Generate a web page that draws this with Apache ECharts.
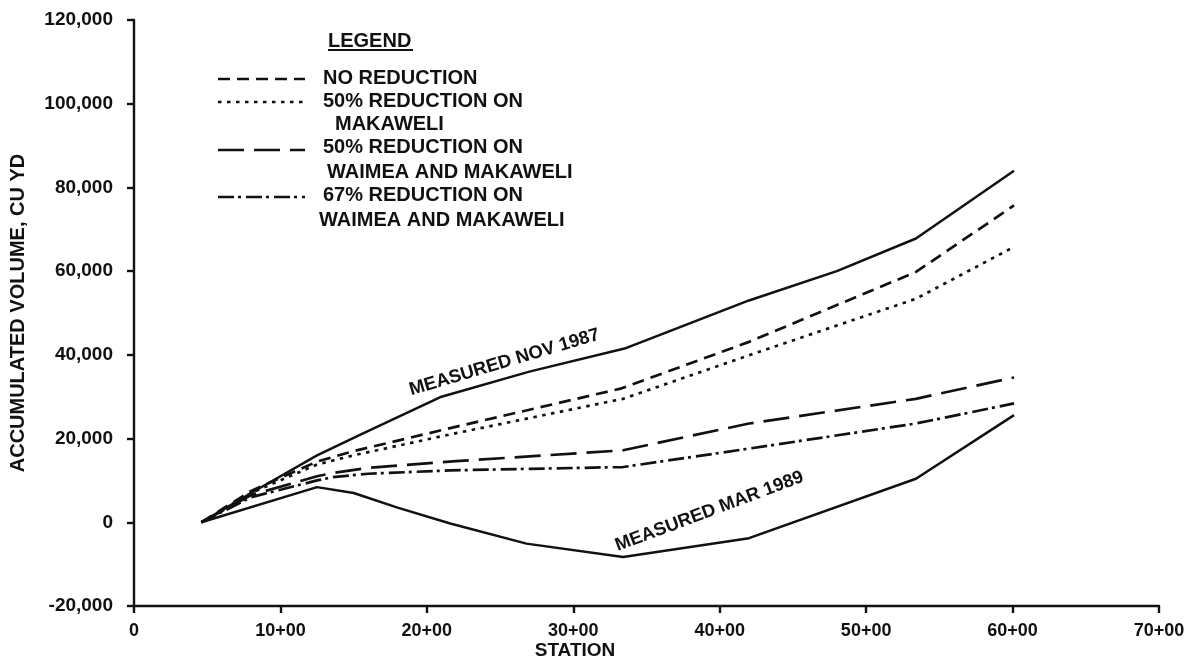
<!DOCTYPE html>
<html>
<head>
<meta charset="utf-8">
<script src="https://cdn.jsdelivr.net/npm/echarts@6/dist/echarts.min.js"></script>
<style>
html,body{margin:0;padding:0;background:#fff;}
#chart{width:1191px;height:662px;}
</style>
</head>
<body>
<div id="chart"></div>
<script>
// ---- data (station in hundreds of feet, volume in cu yd) ----
const nov1987Station = [4.6, 8, 12.5, 15.5, 21, 27, 33.5, 42, 48, 53.4, 60.1];
const nov1987Volume  = [0, 7000, 16000, 21000, 30000, 36000, 41500, 53000, 60000, 67800, 84000];

const noReductionStation = [4.6, 8, 12.5, 15, 21.6, 33.3, 42, 53.4, 60.1];
const noReductionVolume  = [0, 7500, 14500, 17000, 22500, 32000, 43100, 59800, 75700];

const makaweli50Station = [4.6, 8, 12.5, 15, 21.6, 33.4, 42, 53.4, 60.1];
const makaweli50Volume  = [0, 7000, 13800, 16000, 21000, 29500, 39900, 53400, 65800];

const both50Station = [4.6, 8, 12.5, 13.6, 16, 22, 33.4, 42, 53.4, 60.1];
const both50Volume  = [0, 6500, 11000, 11800, 13000, 14600, 17200, 23600, 29500, 34600];

const both67Station = [4.6, 8, 12.5, 13.6, 16, 21.6, 33.4, 42, 53.4, 60.1];
const both67Volume  = [0, 6000, 10000, 10800, 11600, 12400, 13200, 17600, 23600, 28400];

const mar1989Station = [4.6, 12.5, 15, 18, 21.6, 26.8, 33.4, 42, 53.4, 60.1];
const mar1989Volume  = [0, 8400, 7000, 3500, -300, -5100, -8300, -3800, 10400, 25600];

const annotText    = ['MEASURED NOV 1987', 'MEASURED MAR 1989'];
const annotStation = [25.3, 39.3];
const annotVolume  = [38200, 2600];
const annotAngle   = [16.5, 20.5];

const legendNames = [
  'NO REDUCTION',
  '50% REDUCTION ON',
  'MAKAWELI',
  '50% REDUCTION ON',
  'WAIMEA AND MAKAWELI',
  '67% REDUCTION ON',
  'WAIMEA AND MAKAWELI'
];

const xTickLabels = ['0', '10+00', '20+00', '30+00', '40+00', '50+00', '60+00', '70+00'];

// ---- helpers ----
function pairs(xs, ys) { return xs.map((x, i) => [x, ys[i]]); }
function fmtThousands(v) { return String(v).replace(/\B(?=(\d{3})+(?!\d))/g, ','); }

const FONT = '"Liberation Sans", Arial, Helvetica, sans-serif';
const INK = '#111';

const dashNo = [12, 7];
const dashDot50 = [3.5, 5.5];
const dashLong = [26, 10];
const dashDashDot = [16, 4, 3, 5];

function lineSeries(name, data, dash, width) {
  return {
    name: name,
    type: 'line',
    data: data,
    showSymbol: false,
    symbol: 'none',
    smooth: false,
    silent: true,
    lineStyle: { color: INK, width: width, type: dash || 'solid', cap: 'butt', join: 'round' },
    z: 3
  };
}

const chart = echarts.init(document.getElementById('chart'), null, { renderer: 'canvas' });

// legend drawn as graphic elements
const lgX1 = 218, lgX2 = 305, lgTX = 323;
const LGFONT = 'bold 20px ' + FONT;
function lgText(txt, x, y) {
  return { type: 'text', x: x, y: y, z: 10, style: { text: txt, font: LGFONT, fill: INK, textVerticalAlign: 'middle', textAlign: 'left' } };
}
function lgLine(y, dash) {
  return { type: 'line', z: 10, shape: { x1: lgX1, y1: y, x2: lgX2, y2: y }, style: { stroke: INK, lineWidth: 2.6, lineDash: dash } };
}
const legendGraphic = [
  lgText('LEGEND', 328, 41),
  { type: 'line', z: 10, shape: { x1: 328, y1: 50, x2: 413, y2: 50 }, style: { stroke: INK, lineWidth: 2 } },
  lgLine(79, dashNo),
  lgLine(102, dashDot50),
  lgLine(150, dashLong),
  lgLine(197, dashDashDot),
  lgText(legendNames[0], lgTX, 78),
  lgText(legendNames[1], lgTX, 101),
  lgText(legendNames[2], 335, 124),
  lgText(legendNames[3], lgTX, 147),
  lgText(legendNames[4], 327, 172),
  lgText(legendNames[5], lgTX, 195),
  lgText(legendNames[6], 319, 220)
];

const option = {
  backgroundColor: '#fff',
  animation: false,
  grid: { left: 134, right: 32, top: 20, bottom: 56, containLabel: false },
  xAxis: {
    type: 'value',
    min: 0, max: 70, interval: 10,
    axisLine: { show: true, onZero: false, lineStyle: { color: INK, width: 2.4 } },
    axisTick: { show: true, inside: false, length: 7, lineStyle: { color: INK, width: 2.4 } },
    splitLine: { show: false },
    axisLabel: {
      color: INK, fontFamily: FONT, fontWeight: 'bold', fontSize: 18, margin: 16,
      formatter: function (v) { return xTickLabels[Math.round(v / 10)]; }
    }
  },
  yAxis: {
    type: 'value',
    min: -20000, max: 120000, interval: 20000,
    name: 'ACCUMULATED VOLUME, CU YD',
    nameLocation: 'middle',
    nameGap: 106,
    nameTextStyle: { color: INK, fontFamily: FONT, fontWeight: 'bold', fontSize: 20 },
    axisLine: { show: true, onZero: false, lineStyle: { color: INK, width: 2.4 } },
    axisTick: { show: true, inside: false, length: 7, lineStyle: { color: INK, width: 2.4 } },
    splitLine: { show: false },
    axisLabel: {
      color: INK, fontFamily: FONT, fontWeight: 'bold', fontSize: 19, margin: 21,
      formatter: function (v) { return fmtThousands(v); }
    }
  },
  graphic: legendGraphic.concat([
    { type: 'text', x: 575, y: 651, style: { text: 'STATION', font: 'bold 19px ' + FONT, fill: INK, textAlign: 'center', textVerticalAlign: 'middle' } }
  ]),
  series: [
    lineSeries('MEASURED NOV 1987', pairs(nov1987Station, nov1987Volume), 'solid', 2.5),
    lineSeries('NO REDUCTION', pairs(noReductionStation, noReductionVolume), dashNo, 2.7),
    lineSeries('50% REDUCTION ON MAKAWELI', pairs(makaweli50Station, makaweli50Volume), dashDot50, 2.7),
    lineSeries('50% REDUCTION ON WAIMEA AND MAKAWELI', pairs(both50Station, both50Volume), dashLong, 2.7),
    lineSeries('67% REDUCTION ON WAIMEA AND MAKAWELI', pairs(both67Station, both67Volume), dashDashDot, 2.7),
    lineSeries('MEASURED MAR 1989', pairs(mar1989Station, mar1989Volume), 'solid', 2.5),
    {
      name: 'annotations',
      type: 'scatter',
      silent: true,
      symbolSize: 0,
      z: 5,
      itemStyle: { opacity: 1 },
      data: annotText.map((t, i) => ({
        value: [annotStation[i], annotVolume[i]],
        label: { show: true, formatter: t, rotate: annotAngle[i], color: INK, textBorderWidth: 0 }
      })),
      label: {
        show: true, position: 'inside', color: INK, textBorderWidth: 0,
        fontFamily: FONT, fontWeight: 'bold', fontSize: 18.5
      }
    }
  ]
};

chart.setOption(option);
</script>
</body>
</html>
